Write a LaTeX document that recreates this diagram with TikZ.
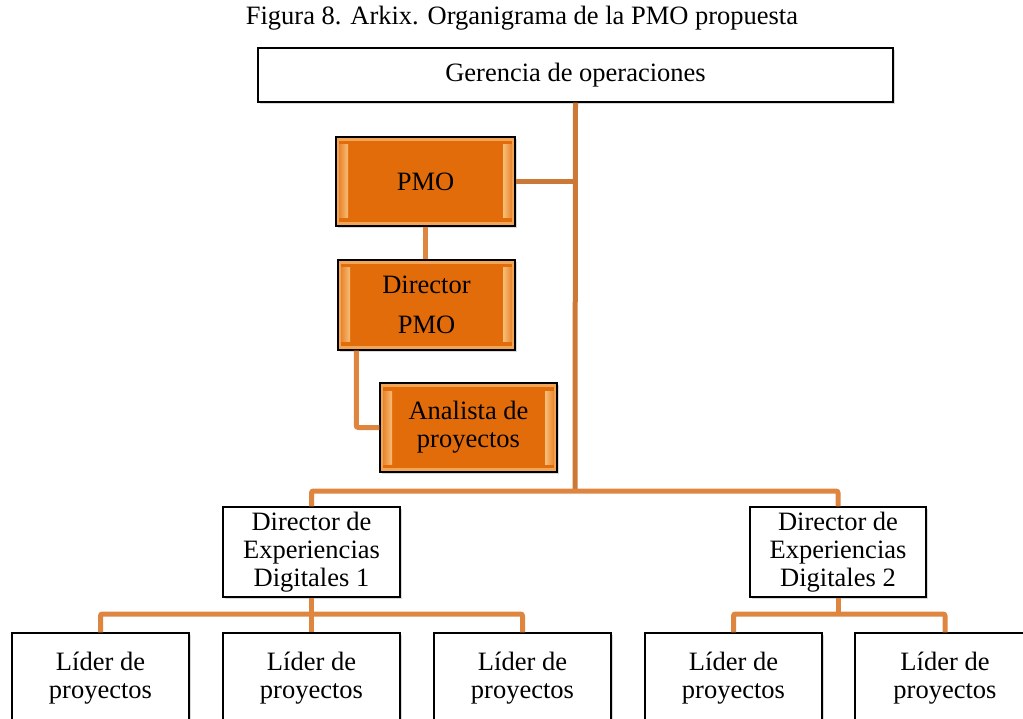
\documentclass[tikz,border=0pt]{standalone}
\usepackage{fontspec}
\setmainfont{Liberation Serif}
\usepackage{tikz}
\usetikzlibrary{shadows}

\definecolor{pmoorange}{RGB}{227,108,10}
\definecolor{pmolight}{RGB}{248,190,120}
\definecolor{linkorange}{RGB}{222,134,64}
\definecolor{trunkorange}{RGB}{204,120,54}

\begin{document}
\begin{tikzpicture}[x=1pt, y=-1pt,
    orgbox/.style={draw=black, line width=1.5pt, fill=white, inner sep=0pt, align=center,
        minimum width=177pt, minimum height=90pt,
        drop shadow={shadow xshift=1.5pt, shadow yshift=-2pt, opacity=0.3}},
    pmobox/.style={orgbox, fill=pmoorange,
        path picture={
            \fill[pmolight!70!pmoorange] (path picture bounding box.south west) rectangle (path picture bounding box.north east);
            \fill[pmoorange] ([shift={(3pt,4pt)}]path picture bounding box.south west) rectangle ([shift={(-3pt,-4pt)}]path picture bounding box.north east);
            \shade[left color=pmoorange!70!pmolight, right color=pmolight] ([shift={(3pt,8pt)}]path picture bounding box.south west) rectangle ([shift={(12pt,-8pt)}]path picture bounding box.north west);
            \shade[left color=pmolight, right color=pmoorange!70!pmolight] ([shift={(-12pt,8pt)}]path picture bounding box.south east) rectangle ([shift={(-3pt,-8pt)}]path picture bounding box.north east);
        }},
    link/.style={draw=linkorange, line width=5pt, rounded corners=2pt},
    trunk/.style={link, draw=trunkorange},
    font=\fontsize{26.5}{28}\selectfont]

    \clip (0,0) rectangle (1023,719);

    \node (titulo) at (522,18) {Figura 8. Arkix. Organigrama de la PMO propuesta};

    \node[orgbox, minimum width=635pt, minimum height=54pt] (ger) at (575.5,75) {Gerencia de operaciones};

    \node[pmobox, minimum width=179pt, minimum height=89pt] (pmo) at (425.5,181.5) {PMO};
    \node[pmobox] (dirpmo) at (426.5,305) {Director\\[12pt]PMO};
    \node[pmobox, minimum height=89pt] (ana) at (468.5,427.5) {Analista de\\proyectos};

    \node[orgbox] (ed1) at (311.5,552) {Director de\\Experiencias\\Digitales 1};
    \node[orgbox, minimum width=176pt] (ed2) at (838,552) {Director de\\Experiencias\\Digitales 2};

    \node[orgbox] (l1) at (100.5,678) {Líder de\\proyectos};
    \node[orgbox] (l2) at (311.5,678) {Líder de\\proyectos};
    \node[orgbox] (l3) at (522.5,678) {Líder de\\proyectos};
    \node[orgbox] (l4) at (733.5,678) {Líder de\\proyectos};
    \node[orgbox, minimum width=180pt] (l5) at (945,678) {Líder de\\proyectos};

    \coordinate (hub) at (575,491);
    \coordinate (bar) at (0,614);

    % tronco y rama de la PMO
    \draw[trunk] (ger.south) -- (hub);
    \draw[trunk] (pmo.east) -- (pmo.east -| hub);
    \draw[link] (pmo.south) -- (pmo.south |- dirpmo.north);
    \draw[link] ([xshift=19pt]dirpmo.south west) |- (ana.west);

    \draw[link] (ed1.north) -- (ed1.north |- hub) -- (ed2.north |- hub) -- (ed2.north);

    \draw[link] (ed1.south) -- (ed1.south |- bar);
    \draw[link] (l1.north) -- (l1.north |- bar) -- (l3.north |- bar) -- (l3.north);
    \draw[link] (l2.north) -- (l2.north |- bar);

    \draw[link] (ed2.south) -- (ed2.south |- bar);
    \draw[link] (l4.north) -- (l4.north |- bar) -- (l5.north |- bar) -- (l5.north);
\end{tikzpicture}
\end{document}
